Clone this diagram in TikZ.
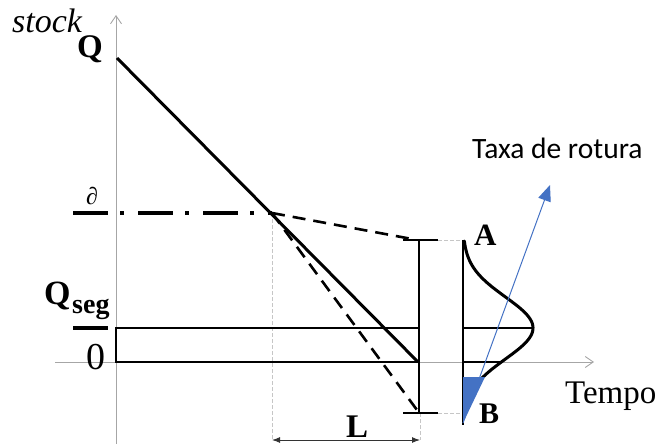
\documentclass[tikz,border=0pt]{standalone}
\usepackage{fontspec}
\setmainfont{Liberation Serif}
\newfontfamily\carl{Carlito}
\usetikzlibrary{arrows.meta}
\definecolor{obl}{HTML}{4472C4}
\tikzset{
  axis/.style={draw=gray!70, line width=0.9pt, -{Straight Barb[length=8pt,width=11pt]}},
  guide/.style={draw=gray!45, line width=1pt, dash pattern=on 4pt off 2pt},
  mainline/.style={draw=black, line width=3pt},
  dashline/.style={draw=black, line width=2.6pt, dash pattern=on 13pt off 8pt},
  dashdot/.style={draw=black, line width=4.5pt, dash pattern=on 35pt off 12pt on 4pt off 14pt},
  thin/.style={draw=black, line width=1.5pt},
  lbl/.style={inner sep=0pt, anchor=base west},
}
\begin{document}
\begin{tikzpicture}[x=1pt,y=-1pt]
\useasboundingbox (0,0) rectangle (662,444);
% axes
\coordinate (yb) at (116,444);
\coordinate (yt) at (116,15);
\coordinate (xl) at (55,362);
\coordinate (xr) at (594,362);
\draw[axis] (yb) -- (yt);
\draw[axis] (xl) -- (xr);
% key points
\coordinate (Q) at (117,58);
\coordinate (R) at (418,362);
\coordinate (S) at (272,213);
\coordinate (sl) at (73,213);
\coordinate (ta) at (403,240);
\coordinate (tb) at (438,240);
\coordinate (ba) at (403,413);
\coordinate (bb) at (438,413);
\coordinate (da) at (463,240);
\coordinate (db) at (463,413);
% guides
\draw[guide] (S) -- (272,440);
\draw[guide] (420,413) -- (420,440);
\draw[guide] (tb) -- (da);
\draw[guide] (bb) -- (db);
% L dimension
\coordinate (La) at (272,440);
\coordinate (Lb) at (420,440);
\draw[draw=black!80, line width=1pt, {Latex[length=8pt,width=6pt]}-{Latex[length=8pt,width=6pt]}] (La) -- (Lb);
% safety stock rectangle
\draw[dashdot] (73,328) -- (116,328);
\draw[line width=2.2pt] (116,328) -- (420,328);
\draw[line width=2.2pt] (116,327) -- (116,362) -- (R);
% vertical lead time bar
\draw[thin] (419,240) -- (419,413);
\draw[thin] (ta) -- (tb);
\draw[thin] (ba) -- (bb);
% reorder level
\draw[dashdot] (sl) -- (S);
% consumption lines
\draw[dashline] (S) -- (412,239);
\draw[dashline] (S) -- (417,410);
\draw[mainline] (Q) -- (R);
% distribution
\draw[thin] (da) -- (463,425);
\draw[thin] (463,328) -- (533,328);
\draw[thin] (463,362) -- (500,362);
\draw[line width=3pt, line cap=round] plot[domain=241:378, samples=80, smooth] ({463+70*exp(-((\x-328)/31)*((\x-328)/31)/2)}, \x);
% blue
\fill[obl] (463,377) -- (485,377) -- (463,423) -- cycle;
\draw[obl, line width=1pt, -{Triangle[length=16pt,width=13pt]}] (463,423) -- (550,185);
% labels
\node[lbl] (stock) at (12,33) {\fontsize{34}{38}\selectfont\itshape stock};
\node[lbl] (Qlab) at (77,58) {\fontsize{33}{36}\selectfont\bfseries Q};
\node[lbl] (slab) at (86,204) {\fontsize{24}{28}\selectfont\bfseries\itshape ∂};
\node[lbl] (Qseg) at (44,304) {\fontsize{34}{40}\selectfont\bfseries Q};
\node[lbl] (seg) at (72,313) {\fontsize{28}{32}\selectfont\bfseries seg};
\node[lbl] (zero) at (86,369) {\fontsize{38}{40}\selectfont 0};
\node[lbl] (A) at (474,245) {\fontsize{31}{36}\selectfont\bfseries A};
\node[lbl] (B) at (479,423) {\fontsize{30}{36}\selectfont\bfseries B};
\node[lbl] (Tempo) at (565,403) {\fontsize{33}{36}\selectfont Tempo};
\node[lbl] (L) at (346,437) {\fontsize{33}{36}\selectfont\bfseries L};
\node[lbl] (taxa) at (472,158) {\fontsize{29.5}{32}\selectfont\carl Taxa de rotura};
\end{tikzpicture}
\end{document}
